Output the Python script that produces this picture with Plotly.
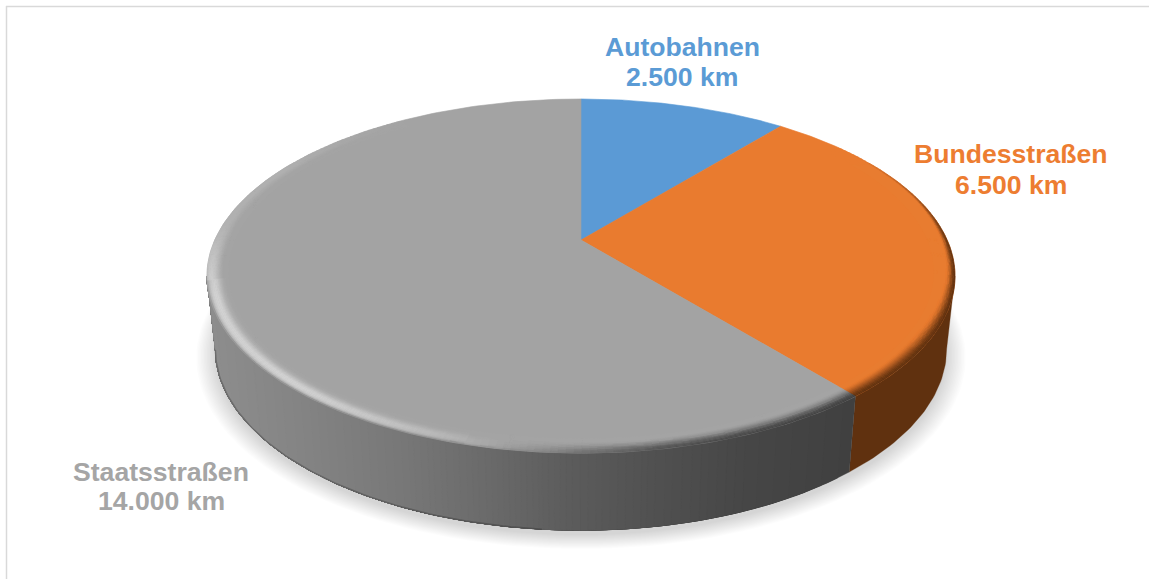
import math
import numpy as np
import plotly.graph_objects as go

categories = ["Autobahnen", "Bundesstraßen", "Staatsstraßen"]
values_km = [2500, 6500, 14000]
colors = ["#5B9AD5", "#E97B2F", "#A3A3A3"]
side_colors = ["#2F5F8C", "#60310F", None]
text_colors = ["#5B9BD5", "#ED7D31", "#A5A5A5"]
label_pos = [(682, 47, 77), (1011, 154, 185), (161, 472, 501)]

W, H = 1149, 579
# perspective disc: top and base of the pie
PERSP = 0.2034
TOP = dict(cx=581, cy=240, A=366.2, B=169.7)
BASE = dict(cx=581, cy=312, A=358.0, B=173.8)
FOLD_R = math.degrees(math.acos(-PERSP))
FOLD_L = 360 - FOLD_R


def project(phi_deg, r, g, dy=0.0):
    phi = np.radians(phi_deg)
    u, v = r * np.sin(phi), r * np.cos(phi)
    w = 1 + PERSP * v
    return g["cx"] + g["A"] * u / w, g["cy"] - g["B"] * v / w + dy


def smooth(a, b, x):
    t = min(1.0, max(0.0, (x - a) / (b - a)))
    return t * t * (3 - 2 * t)


def hex2rgb(c):
    return tuple(int(c[i:i + 2], 16) for i in (1, 3, 5))


def mix(c1, c2, t):
    return tuple(a + (b - a) * t for a, b in zip(c1, c2))


def key(c, q=1):
    return "#%02x%02x%02x" % tuple(min(255, int(round(x / q) * q)) for x in c)


GRAY_STOPS_X = [205, 300, 400, 490, 570, 660, 750, 850]
GRAY_STOPS_V = [142, 132, 120, 106, 92, 80, 70, 64]


def side_color(i, x):
    if i == 2:
        g = float(np.interp(x, GRAY_STOPS_X, GRAY_STOPS_V))
        return (g, g, g)
    return hex2rgb(side_colors[i])


total = sum(values_km)
edges = [0.0]
for v in values_km:
    edges.append(edges[-1] + v / total * 360)


class Buckets:
    def __init__(self, lw):
        self.d = {}
        self.lw = lw

    def add(self, color, xs, ys):
        e = self.d.setdefault(color, ([], []))
        e[0].extend(list(xs) + [xs[0], None])
        e[1].extend(list(ys) + [ys[0], None])

    def traces(self):
        out = []
        for c, (xs, ys) in self.d.items():
            out.append(go.Scatter(x=xs, y=ys, mode="lines", fill="toself", fillcolor=c,
                                  line=dict(color=c, width=self.lw), hoverinfo="skip",
                                  showlegend=False))
        return out


fig = go.Figure()

# soft ground shadow
for r in np.linspace(1.05, 1.0, 14):
    px, py = project(np.arange(0, 361, 2.0), r, BASE, dy=5)
    fig.add_trace(go.Scatter(x=px, y=py, mode="lines", fill="toself",
                             fillcolor="rgba(0,0,0,0.012)", line=dict(width=0),
                             hoverinfo="skip", showlegend=False))


def wall_polygon(p0, p1):
    ang = np.append(np.arange(p0, p1, 1.0), p1)
    xt, yt = project(ang, 1, TOP)
    xb, yb = project(ang[::-1], 1, BASE)
    return [*xt, *xb, xt[0]], [*yt, *yb, yt[0]]


# side wall (only the part that faces the viewer): each shade band runs to the far
# end of its slice and the next one paints over it
for i in (0, 1, 2):
    a0, a1 = max(edges[i], FOLD_R), min(edges[i + 1], FOLD_L)
    if a1 <= a0:
        continue
    prev = None
    for p in np.arange(a0, a1, 0.25):
        x0, _ = project(p, 1, TOP)
        x1, _ = project(p, 1, BASE)
        c = key(side_color(i, (x0 + x1) / 2))
        if c != prev:
            xs, ys = wall_polygon(p, a1)
            fig.add_trace(go.Scatter(x=xs, y=ys, mode="lines", fill="toself", fillcolor=c,
                                     line=dict(width=0.3, color=c), hoverinfo="skip", showlegend=False))
            prev = c

# thin darker line on the lower edge of the wall
px, py = project(np.arange(185, FOLD_L, 1.0), 1, BASE)
fig.add_trace(go.Scatter(x=px, y=py, mode="lines", line=dict(color="rgba(40,40,40,0.3)", width=1.5),
                         hoverinfo="skip", showlegend=False))

# flat wedges of the top
for i, cat in enumerate(categories):
    ang = np.linspace(edges[i], edges[i + 1], 200)
    px, py = project(ang, 1, TOP)
    fig.add_trace(go.Scatter(x=[TOP["cx"], *px, TOP["cx"]], y=[TOP["cy"], *py, TOP["cy"]],
                             mode="lines", fill="toself", fillcolor=colors[i],
                             line=dict(color=colors[i], width=0.6), name=cat,
                             hoverinfo="name", showlegend=False))

# bevelled rim of the top
R0 = 0.945
rings = np.linspace(R0, 1.0, 15)
rim = Buckets(0.5)
HL = (222, 222, 222)
for i in range(len(values_km)):
    a0, a1 = edges[i], edges[i + 1]
    n = max(2, int((a1 - a0) / 1.0))
    grid = np.linspace(a0, a1, n + 1)
    base = hex2rgb(colors[i])
    for p0, p1 in zip(grid[:-1], grid[1:]):
        pm = (p0 + p1) / 2
        xm, _ = project(pm, 1, TOP)
        dark = smooth(50, 95, pm) * (1 - smooth(165, 205, pm))
        s0 = float(np.interp(pm, [50, 75, 100, 125], [0.95, 0.85, 0.6, 0.25]))
        hi = smooth(175, 225, pm) * (1 - 0.72 * smooth(250, 280, pm)) * (1 - smooth(290, 330, pm))
        wall_mix = smooth(175, 215, pm) * (1 - smooth(245, 268, pm))
        if dark <= 0.01 and hi <= 0.01:
            continue
        sc = side_color(i, xm)
        for r0, r1 in zip(rings[:-1], rings[1:]):
            s = ((r0 + r1) / 2 - R0) / (1 - R0)
            c = base
            if dark > 0:
                c = mix(c, sc, dark * smooth(s0, 1.0, s))
            if hi > 0:
                peak = math.exp(-((s - 0.68) / 0.30) ** 2) if wall_mix > 0.5 else smooth(0.2, 0.8, s)
                c = mix(c, HL, hi * peak * 0.8)
                c = mix(c, sc, wall_mix * smooth(0.85, 1.0, s) * 0.8)
            xa, ya = project(p0, r0, TOP)
            xb, yb = project(p1, r0, TOP)
            xc, yc = project(p1, r1, TOP)
            xd, yd = project(p0, r1, TOP)
            rim.add(key(c, 2), [xa, xb, xc, xd], [ya, yb, yc, yd])
for t in rim.traces():
    fig.add_trace(t)

# labels
annotations = []
for cat, val, col, (lx, ly1, ly2) in zip(categories, values_km, text_colors, label_pos):
    txt = f"{val:,}".replace(",", ".") + " km"
    for s, yy in ((cat, ly1), (txt, ly2)):
        annotations.append(dict(x=lx, y=yy, xref="x", yref="y", text=f"<b>{s}</b>", showarrow=False,
                                xanchor="center", yanchor="middle",
                                font=dict(family="Liberation Sans, Arial, sans-serif", size=26.6, color=col)))

shapes = [
    dict(type="line", xref="x", yref="y", x0=6, x1=W, y0=6.5, y1=6.5, line=dict(color="#D9D9D9", width=1.5), layer="below"),
    dict(type="line", xref="x", yref="y", x0=6.5, x1=6.5, y0=6, y1=H, line=dict(color="#D9D9D9", width=1.5), layer="below"),
]

fig.update_layout(
    width=W, height=H, margin=dict(l=0, r=0, t=0, b=0),
    paper_bgcolor="white", plot_bgcolor="white", showlegend=False,
    xaxis=dict(range=[0, W], visible=False, fixedrange=True),
    yaxis=dict(range=[H, 0], visible=False, fixedrange=True),
    annotations=annotations, shapes=shapes,
)
fig.write_html("out.html", config={"displayModeBar": False},
               post_script="document.body.style.margin='0';document.body.style.overflow='hidden';")
